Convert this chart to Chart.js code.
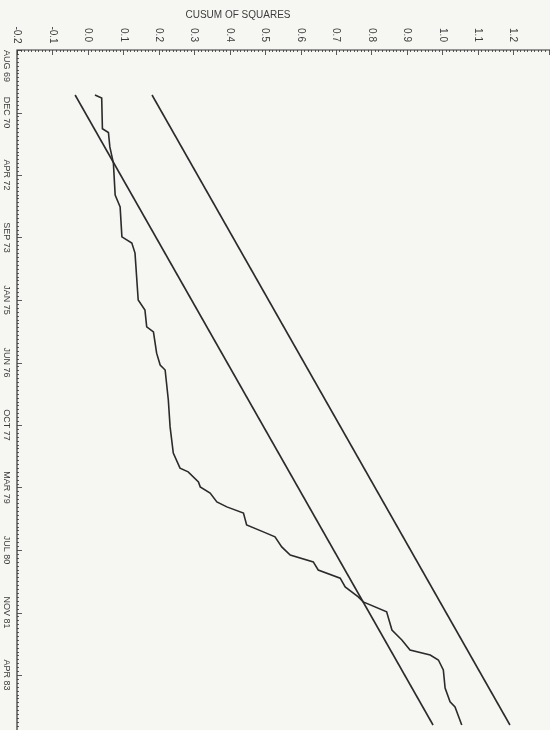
<!DOCTYPE html>
<html>
<head>
<meta charset="utf-8">
<script src="https://cdn.jsdelivr.net/npm/chart.js@4/dist/chart.umd.min.js"></script>
<style>
  html, body { margin: 0; padding: 0; background: #f6f6f3; }
  #wrap { position: relative; width: 550px; height: 730px; }
</style>
</head>
<body>
<div id="wrap"><canvas id="cusum" width="550" height="730"></canvas></div>
<script>
// date labels on the time axis, one per major tick (tick units 0..10)
var dateLabels = ['AUG 69', 'DEC 70', 'APR 72', 'SEP 73', 'JAN 75', 'JUN 76', 'OCT 77', 'MAR 79', 'JUL 80', 'NOV 81', 'APR 83'];
// value ticks on the cusum axis
var valueTicks = [-0.2, -0.1, 0.0, 0.1, 0.2, 0.3, 0.4, 0.5, 0.6, 0.7, 0.8, 0.9, 1.0, 1.1, 1.2];
var valueLabels = ['-0.2', '-0.1', '0.0', '0.1', '0.2', '0.3', '0.4', '0.5', '0.6', '0.7', '0.8', '0.9', '1.0', '1.1', '1.2'];

// cusum of squares path (t in tick units, v = cusum value)
var cusumT = [0.72, 0.77, 1.26, 1.32, 1.55, 1.81, 2.32, 2.51, 2.99, 3.09, 3.25, 4.00, 4.16, 4.43, 4.51, 4.85, 5.04, 5.12, 5.60, 6.03,
              6.45, 6.69, 6.75, 6.91, 6.99, 7.09, 7.23, 7.31, 7.41, 7.60, 7.71, 7.79, 7.95, 8.08, 8.19, 8.32, 8.45, 8.59, 8.75, 8.83,
              8.99, 9.28, 9.44, 9.60, 9.68, 9.76, 9.92, 10.21, 10.43, 10.51, 10.80];
var cusumV = [0.020, 0.039, 0.041, 0.058, 0.062, 0.072, 0.077, 0.091, 0.096, 0.124, 0.133, 0.142, 0.161, 0.166, 0.185, 0.194, 0.204, 0.218, 0.227, 0.232,
              0.241, 0.260, 0.283, 0.312, 0.317, 0.345, 0.364, 0.392, 0.439, 0.448, 0.495, 0.528, 0.547, 0.571, 0.636, 0.650, 0.712, 0.726, 0.763, 0.777,
              0.843, 0.858, 0.886, 0.909, 0.966, 0.989, 1.003, 1.008, 1.022, 1.036, 1.055];

// significance bounds
var boundT = [0.72, 10.80];
var lowerV = [-0.036, 0.974];
var upperV = [0.181, 1.191];

function toPoints(ts, vs){
    var pts = [];
    for (var i = 0; i < ts.length; i++) {
        pts.push({x: vs[i], y: ts[i]});
    }
    return pts;
}

var ink = '#2b2b2b';
var textInk = '#3c3c3c';

// draws the rotated axes of the scanned figure
var rotatedAxes = {
    id: 'rotatedAxes',
    afterDraw: function(chart){
        var ctx = chart.ctx;
        var xs = chart.scales.x;
        var ys = chart.scales.y;
        var area = chart.chartArea;
        var i, px, py;

        ctx.save();
        ctx.strokeStyle = '#333';
        ctx.lineWidth = 1.2;
        ctx.beginPath();
        ctx.moveTo(area.left, area.bottom);
        ctx.lineTo(area.left, area.top);
        ctx.lineTo(area.right, area.top);
        ctx.stroke();

        // value axis ticks (inward, downwards)
        ctx.lineWidth = 0.8;
        ctx.beginPath();
        for (i = -20; i <= 130; i++) {
            px = Math.round(xs.getPixelForValue(i / 100)) + 0.5;
            if (px > area.right) break;
            var len = (i % 10 === 0) ? 5 : 2;
            ctx.moveTo(px, area.top);
            ctx.lineTo(px, area.top + len);
        }
        // time axis ticks (inward, to the right)
        for (i = 0; i <= 10.9 * 16; i++) {
            py = Math.round(ys.getPixelForValue(i / 16)) + 0.5;
            if (py > area.bottom) break;
            var tl = (i % 16 === 0) ? 5 : 2;
            ctx.moveTo(area.left, py);
            ctx.lineTo(area.left + tl, py);
        }
        ctx.stroke();

        ctx.fillStyle = textInk;
        ctx.textBaseline = 'middle';

        // value labels, rotated
        ctx.font = '10px "Liberation Sans", Arial, sans-serif';
        ctx.textAlign = 'center';
        for (i = 0; i < valueTicks.length; i++) {
            px = xs.getPixelForValue(valueTicks[i]);
            ctx.save();
            ctx.translate(px, 35);
            ctx.rotate(Math.PI / 2);
            ctx.fillText(valueLabels[i], 0, 0);
            ctx.restore();
        }

        // date labels, rotated
        ctx.font = '9px "Liberation Sans", Arial, sans-serif';
        for (i = 0; i < dateLabels.length; i++) {
            py = ys.getPixelForValue(i);
            ctx.save();
            ctx.translate(6, py);
            ctx.rotate(Math.PI / 2);
            ctx.textAlign = (i === 0) ? 'left' : 'center';
            ctx.fillText(dateLabels[i], 0, 0);
            ctx.restore();
        }

        // axis title
        ctx.font = '10px "Liberation Sans", Arial, sans-serif';
        ctx.textAlign = 'center';
        ctx.fillText('CUSUM OF SQUARES', 238, 15);
        ctx.restore();
    }
};

var lineStyle = {
    showLine: true,
    pointRadius: 0,
    borderWidth: 1.6,
    borderColor: ink,
    backgroundColor: ink,
    tension: 0,
    fill: false
};

var chart = new Chart(document.getElementById('cusum'), {
    type: 'scatter',
    data: {
        datasets: [
            Object.assign({label: 'CUSUM', data: toPoints(cusumT, cusumV)}, lineStyle),
            Object.assign({label: 'Lower', data: toPoints(boundT, lowerV)}, lineStyle),
            Object.assign({label: 'Upper', data: toPoints(boundT, upperV)}, lineStyle)
        ]
    },
    options: {
        responsive: false,
        animation: false,
        layout: { padding: { left: 17, top: 50, right: 0, bottom: 0 } },
        plugins: {
            legend: { display: false },
            tooltip: { enabled: false }
        },
        scales: {
            x: { type: 'linear', display: false, min: -0.2, max: 1.304 },
            y: { type: 'linear', display: false, min: 0, max: 10.88, reverse: true }
        }
    },
    plugins: [rotatedAxes]
});
</script>
</body>
</html>
